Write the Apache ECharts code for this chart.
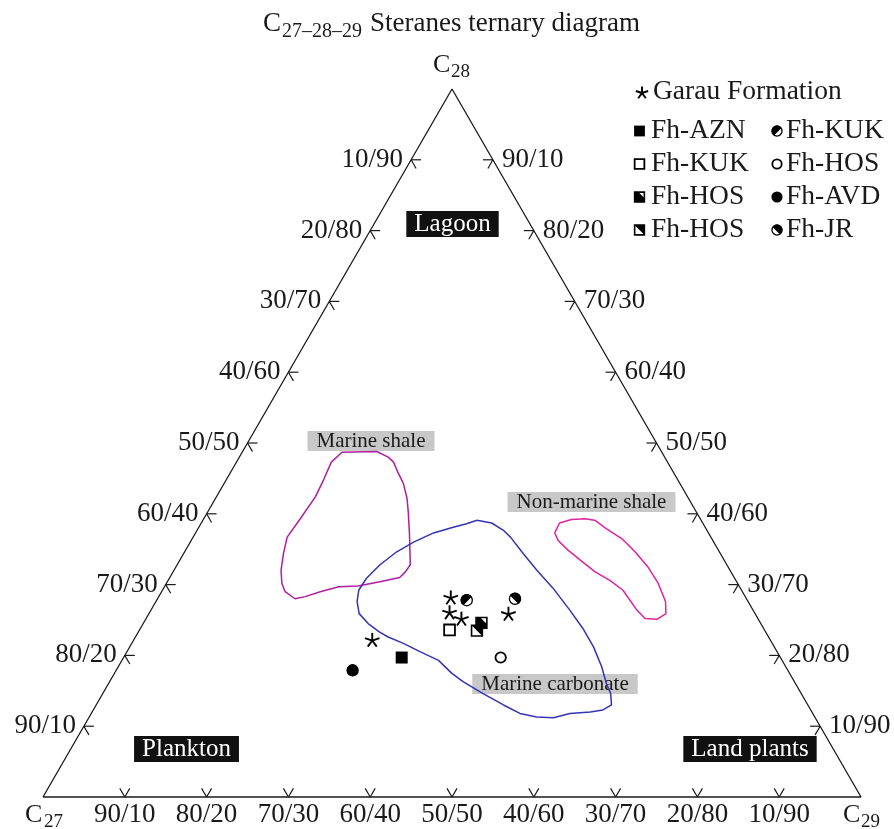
<!DOCTYPE html>
<html><head><meta charset="utf-8">
<script src="https://cdn.jsdelivr.net/npm/echarts@6/dist/echarts.min.js"></script>
<style>html,body{margin:0;padding:0;background:#fff}#c{width:894px;height:829px}</style>
</head><body><div id="c"></div>
<script>
const FONT = '"Liberation Serif","Times New Roman",serif';
const INK = '#1a1a1a';

// tick steps along each edge (percent of second component)
const tickSteps = [10, 20, 30, 40, 50, 60, 70, 80, 90];
const bottomTickLabels = ['90/10','80/20','70/30','60/40','50/50','40/60','30/70','20/80','10/90']; // C27/C29
const leftTickLabels   = ['90/10','80/20','70/30','60/40','50/50','40/60','30/70','20/80','10/90']; // C27/C28, bottom to top
const rightTickLabels  = ['90/10','80/20','70/30','60/40','50/50','40/60','30/70','20/80','10/90']; // C28/C29, top to bottom

// samples, [C27, C28, C29] in %
const garau    = [[36.1,28.1,35.8],[37.3,26.0,36.7],[36.3,25.1,38.6],[30.2,25.8,44.0],[48.7,22.1,29.2]];
const fhAZN    = [[46.3,19.7,34.0]];
const fhKUKsq  = [[38.5,23.6,37.9]];
const fhHOSsqA = [[34.1,24.6,41.3]];
const fhHOSsqB = [[35.2,23.5,41.3]];
const fhKUKci  = [[34.3,27.8,37.9]];
const fhHOSci  = [[34.2,19.7,46.1]];
const fhAVD    = [[53.2,17.9,28.9]];
const fhJR     = [[28.3,28.0,43.7]];

// field outlines, [C27, C28, C29] in %
const marineShale = [[39.1,48.7,12.2],[34.8,48.8,16.4],[33.8,48.0,18.2],[33.5,47.3,19.2],[33.7,45.7,20.6],[33.8,44.3,21.9],[34.4,42.2,23.4],[35.2,40.3,24.5],[36.6,37.2,26.2],[38.7,32.8,28.5],[39.8,31.8,28.4],[40.9,31.0,28.1],[43.6,30.4,26.0],[46.6,29.8,23.6],[49.0,29.7,21.3],[51.6,29.0,19.4],[53.8,28.3,17.9],[55.2,28.0,16.8],[55.9,29.0,15.1],[55.7,30.2,14.1],[54.9,32.0,13.1],[53.4,34.4,12.2],[51.8,36.7,11.5],[48.9,39.3,11.8],[45.5,42.4,12.1],[43.3,44.8,11.9],[41.1,47.3,11.6]];
const marineCarbonate = [[27.4,39.1,33.5],[25.8,38.7,35.5],[24.9,37.7,37.4],[24.5,36.7,38.8],[24.1,34.4,41.5],[23.6,32.0,44.4],[22.9,29.5,47.6],[22.4,26.4,51.2],[22.1,23.8,54.1],[22.1,21.2,56.7],[22.5,18.4,59.1],[23.1,16.1,60.8],[23.3,14.6,62.1],[24.0,13.0,63.0],[25.4,12.3,62.3],[27.1,12.0,60.9],[29.7,11.8,58.5],[32.0,11.2,56.8],[34.0,11.3,54.7],[35.8,11.8,52.4],[37.2,13.0,49.8],[38.9,14.6,46.5],[40.5,16.3,43.2],[41.3,17.5,41.2],[42.0,19.3,38.7],[43.6,20.5,35.9],[45.1,21.7,33.2],[46.5,22.6,30.9],[47.2,23.3,29.5],[48.0,24.5,27.5],[48.4,25.9,25.7],[47.8,27.6,24.6],[46.8,29.2,24.0],[45.0,30.9,24.1],[42.4,32.8,24.8],[39.5,34.6,25.9],[36.7,36.0,27.3],[33.6,37.3,29.1],[30.8,38.1,31.1],[28.9,38.6,32.5]];
const nonMarineShale = [[18.8,37.3,43.9],[17.5,38.7,43.8],[15.8,39.2,45.0],[14.1,39.3,46.6],[13.0,39.1,47.9],[12.2,37.9,49.9],[11.0,36.5,52.5],[10.3,34.6,55.1],[9.8,32.5,57.7],[9.7,30.2,60.1],[10.1,27.6,62.3],[10.9,25.9,63.2],[12.4,25.1,62.5],[13.8,25.2,61.0],[14.2,26.4,59.4],[14.5,29.2,56.3],[15.4,30.6,54.0],[16.6,31.8,51.6],[17.6,33.5,48.9],[18.4,34.9,46.7],[18.9,36.2,44.9]];

const H = Math.sqrt(3) / 2;
function tern(p) {
  const s = p[0] + p[1] + p[2];
  const b = p[1] / s, c = p[2] / s;
  return [c + b / 2, b * H];
}
function closed(poly) { const d = poly.map(tern); d.push(d[0]); return d; }

function lineEl(x1, y1, x2, y2, w) {
  return { type: 'line', shape: { x1, y1, x2, y2 }, style: { stroke: INK, lineWidth: w || 1.2 } };
}
function textEl(x, y, txt, align, size, extra) {
  return { type: 'text', x, y, style: Object.assign({ text: txt, font: size + 'px ' + FONT, fill: INK, align: align, verticalAlign: 'middle' }, extra || {}) };
}
function segPoly(cx, cy, r, dirDeg, d) {
  const off = Math.acos(d) * 180 / Math.PI;
  const a0 = dirDeg + off, a1 = dirDeg + 360 - off;
  const pts = [];
  for (let a = a0; a <= a1 + 0.01; a += (a1 - a0) / 24) {
    const t = a * Math.PI / 180;
    pts.push([cx + r * Math.cos(t), cy + r * Math.sin(t)]);
  }
  return pts;
}
function markerShapes(kind, x, y, sc) {
  const K = '#000';
  const s = sc || 1;
  switch (kind) {
    case 'star': {
      const r = 7.6 * s, out = [];
      [-90, -18, 54, 126, 198].forEach(a => {
        const t = a * Math.PI / 180;
        out.push({ type: 'line', shape: { x1: x, y1: y, x2: x + r * Math.cos(t), y2: y + r * Math.sin(t) }, style: { stroke: K, lineWidth: 1.9 } });
      });
      return out;
    }
    case 'sqFilled': {
      const h = 6 * s;
      return [{ type: 'rect', shape: { x: x - h, y: y - h, width: 2 * h, height: 2 * h }, style: { fill: K } }];
    }
    case 'sqOpen': {
      const h = 5.4 * s;
      return [{ type: 'rect', shape: { x: x - h, y: y - h, width: 2 * h, height: 2 * h }, style: { fill: '#fff', stroke: K, lineWidth: 1.8 } }];
    }
    case 'sqHosA': {
      const h = 5.4 * s;
      return [
        { type: 'rect', shape: { x: x - h, y: y - h, width: 2 * h, height: 2 * h }, style: { fill: '#fff', stroke: K, lineWidth: 1.6 } },
        { type: 'polygon', shape: { points: [[x - h, y - h], [x - 0.2 * h, y - h], [x + h, y + 0.2 * h], [x + h, y + h], [x - h, y + h]] }, style: { fill: K } }
      ];
    }
    case 'sqHosB': {
      const h = 5.4 * s;
      return [
        { type: 'rect', shape: { x: x - h, y: y - h, width: 2 * h, height: 2 * h }, style: { fill: '#fff', stroke: K, lineWidth: 1.6 } },
        { type: 'polygon', shape: { points: [[x - h, y - h], [x + h, y - h], [x + h, y + h]] }, style: { fill: K } }
      ];
    }
    case 'cFilled':
      return [{ type: 'circle', shape: { cx: x, cy: y, r: 6.2 * s }, style: { fill: K } }];
    case 'cOpen':
      return [{ type: 'circle', shape: { cx: x, cy: y, r: 5.2 * s }, style: { fill: '#fff', stroke: K, lineWidth: 1.8 } }];
    case 'cKUK':
      return [
        { type: 'circle', shape: { cx: x, cy: y, r: 5.6 * s }, style: { fill: '#fff', stroke: K, lineWidth: 1.3 } },
        { type: 'polygon', shape: { points: segPoly(x, y, 6 * s, 45, 0.2) }, style: { fill: K } }
      ];
    case 'cJR':
      return [
        { type: 'circle', shape: { cx: x, cy: y, r: 5.6 * s }, style: { fill: '#fff', stroke: K, lineWidth: 1.3 } },
        { type: 'polygon', shape: { points: segPoly(x, y, 6 * s, 135, 0.2) }, style: { fill: K } }
      ];
  }
  return [];
}

function markerSeries(name, data, kind) {
  return {
    name, type: 'custom', coordinateSystem: 'cartesian2d', clip: false, silent: true, z: 10,
    data: data.map(tern),
    renderItem: (params, api) => {
      const p = api.coord([api.value(0), api.value(1)]);
      return { type: 'group', children: markerShapes(kind, p[0], p[1]) };
    }
  };
}

const TL = 10, TF = 27;
const tickSeries = [
  { // bottom edge C27-C29
    type: 'custom', coordinateSystem: 'cartesian2d', clip: false, silent: true, z: 5,
    data: tickSteps.map((k, i) => [...tern([100 - k, 0, k]), i]),
    renderItem: (params, api) => {
      const p = api.coord([api.value(0), api.value(1)]), i = api.value(2);
      return { type: 'group', children: [
        lineEl(p[0], p[1], p[0] + TL * 0.5, p[1] - TL * H),
        lineEl(p[0], p[1], p[0] - TL * 0.5, p[1] - TL * H),
        textEl(p[0], p[1] + 18, bottomTickLabels[i], 'center', TF)
      ] };
    }
  },
  { // left edge C27-C28
    type: 'custom', coordinateSystem: 'cartesian2d', clip: false, silent: true, z: 5,
    data: tickSteps.map((k, i) => [...tern([100 - k, k, 0]), i]),
    renderItem: (params, api) => {
      const p = api.coord([api.value(0), api.value(1)]), i = api.value(2);
      return { type: 'group', children: [
        lineEl(p[0], p[1], p[0] + TL, p[1]),
        lineEl(p[0], p[1], p[0] + TL * 0.5, p[1] + TL * H),
        textEl(p[0] - 8, p[1], leftTickLabels[i], 'right', TF)
      ] };
    }
  },
  { // right edge C28-C29
    type: 'custom', coordinateSystem: 'cartesian2d', clip: false, silent: true, z: 5,
    data: tickSteps.map((k, i) => [...tern([0, 100 - k, k]), i]),
    renderItem: (params, api) => {
      const p = api.coord([api.value(0), api.value(1)]), i = api.value(2);
      return { type: 'group', children: [
        lineEl(p[0], p[1], p[0] - TL, p[1]),
        lineEl(p[0], p[1], p[0] - TL * 0.5, p[1] + TL * H),
        textEl(p[0] + 9, p[1], rightTickLabels[i], 'left', TF)
      ] };
    }
  }
];

function outline(data, color) {
  return { type: 'line', data: closed(data), showSymbol: false, symbol: 'none', clip: false, silent: true, z: 3,
    lineStyle: { color: color, width: 1.5 } };
}

const boxGray = { backgroundColor: '#c8c8c8', padding: [1, 9, 0, 9], lineHeight: 19 };
const boxBlack = { backgroundColor: '#111', padding: [1, 8, 0, 8], lineHeight: 25, fill: '#fff' };

const legendRows = [
  ['sqFilled', 'Fh-AZN', 'cKUK', 'Fh-KUK'],
  ['sqOpen', 'Fh-KUK', 'cOpen', 'Fh-HOS'],
  ['sqHosA', 'Fh-HOS', 'cFilled', 'Fh-AVD'],
  ['sqHosB', 'Fh-HOS', 'cJR', 'Fh-JR']
];
const legendY = [131, 164, 197, 230];
const LF = 27.5;
const legendEls = [
  { type: 'group', x: 642, y: 93, children: markerShapes('star', 0, 0, 0.85) },
  textEl(653, 92, 'Garau Formation', 'left', LF)
];
legendRows.forEach((r, i) => {
  legendEls.push({ type: 'group', x: 639.5, y: legendY[i], children: markerShapes(r[0], 0, 0, 0.9) });
  legendEls.push(textEl(651, legendY[i], r[1], 'left', LF));
  legendEls.push({ type: 'group', x: 777, y: legendY[i], children: markerShapes(r[2], 0, 0, 0.9) });
  legendEls.push(textEl(786, legendY[i], r[3], 'left', LF));
});

const chart = echarts.init(document.getElementById('c'), null, { renderer: 'canvas' });
chart.setOption({
  animation: false,
  backgroundColor: '#fff',
  grid: { left: 43, right: 33, top: 89, bottom: 32 },
  xAxis: { type: 'value', min: 0, max: 1, show: false },
  yAxis: { type: 'value', min: 0, max: H, show: false },
  graphic: [
    textEl(263, 24, 'C', 'left', 27),
    textEl(282, 32, '27–28–29', 'left', 20),
    textEl(370, 24, 'Steranes ternary diagram', 'left', 27),
    textEl(433, 65, 'C', 'left', 26),
    textEl(451, 72, '28', 'left', 19),
    textEl(25, 815, 'C', 'left', 26),
    textEl(44, 822, '27', 'left', 19),
    textEl(843, 815, 'C', 'left', 26),
    textEl(861, 822, '29', 'left', 19),
    textEl(452.5, 224, 'Lagoon', 'center', 25, boxBlack),
    textEl(186.5, 749, 'Plankton', 'center', 25, boxBlack),
    textEl(750, 749, 'Land plants', 'center', 25, boxBlack),
    textEl(371, 441, 'Marine shale', 'center', 21, boxGray),
    textEl(591.5, 502, 'Non-marine shale', 'center', 21, boxGray),
    textEl(555, 684, 'Marine carbonate', 'center', 21, boxGray),
    ...legendEls
  ],
  series: [
    { type: 'line', data: [tern([100, 0, 0]), tern([0, 0, 100]), tern([0, 100, 0]), tern([100, 0, 0])],
      symbol: 'none', clip: false, silent: true, z: 4, lineStyle: { color: INK, width: 1.3 } },
    outline(marineShale, '#b01ea0'),
    outline(nonMarineShale, '#e0239c'),
    outline(marineCarbonate, '#3434b4'),
    ...tickSeries,
    markerSeries('Garau Formation', garau, 'star'),
    markerSeries('Fh-AZN', fhAZN, 'sqFilled'),
    markerSeries('Fh-KUK sq', fhKUKsq, 'sqOpen'),
    markerSeries('Fh-HOS A', fhHOSsqA, 'sqHosA'),
    markerSeries('Fh-HOS B', fhHOSsqB, 'sqHosB'),
    markerSeries('Fh-KUK ci', fhKUKci, 'cKUK'),
    markerSeries('Fh-HOS ci', fhHOSci, 'cOpen'),
    markerSeries('Fh-AVD', fhAVD, 'cFilled'),
    markerSeries('Fh-JR', fhJR, 'cJR')
  ]
});
</script></body></html>
